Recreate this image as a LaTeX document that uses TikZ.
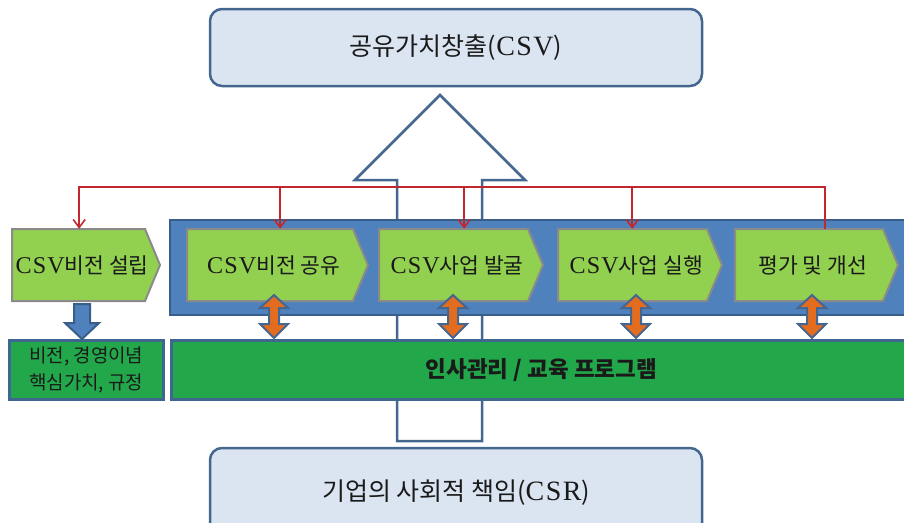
\documentclass[tikz,border=0pt]{standalone}
\usepackage{fontspec}
\setmainfont{Noto Sans CJK KR}
\newfontfamily\lat{Liberation Serif}[Scale=1.12,LetterSpace=5]
\usetikzlibrary{arrows.meta}

\definecolor{boxfill}{HTML}{DBE5F1}
\definecolor{boxline}{HTML}{44668F}
\definecolor{bandblue}{HTML}{4F81BD}
\definecolor{bandline}{HTML}{3A5E8A}
\definecolor{chevfill}{HTML}{92D050}
\definecolor{chevline}{HTML}{8A8A8A}
\definecolor{hrgreen}{HTML}{22A84B}
\definecolor{hrline}{HTML}{3F6591}
\definecolor{linkred}{HTML}{C1272D}
\definecolor{dblorange}{HTML}{E46C1E}
\definecolor{ink}{HTML}{1A1A1A}

\tikzset{
  roundbox/.style={draw=boxline, line width=2.5pt, fill=boxfill, rounded corners=12pt,
    text=ink, font=\fontsize{25}{29}\selectfont, inner sep=0pt},
  hollowarrow/.style={draw=boxline, line width=2.5pt, fill=white, line join=miter},
  bandstyle/.style={draw=bandline, line width=2.5pt, fill=bandblue},
  chevshape/.style={draw=chevline, line width=2pt, fill=chevfill, line join=miter},
  chevtext/.style={inner sep=0pt, minimum height=72pt, text=ink,
    font=\fontsize{21.5}{24}\selectfont},
  hrbox/.style={draw=hrline, line width=2.5pt, fill=hrgreen, inner sep=0pt, text=ink},
  redline/.style={draw=linkred, line width=1.6pt},
  redarrow/.style={redline, -{Straight Barb[length=8pt,width=12pt,line width=1.6pt]}},
  dblarrow/.style={draw=boxline, line width=2pt, fill=dblorange, line join=miter},
  downarrow/.style={draw=bandline, line width=2pt, fill=bandblue, line join=miter},
}

% pentagon-shaped step: name, left x, tip x, label
\newcommand\stepchevron[4]{%
  \draw[chevshape] (#2,229) -- ({#3-15},229) -- (#3,265) -- ({#3-15},301) -- (#2,301) -- cycle;
  \node[chevtext, minimum width={#3-#2-8}, anchor=west] (#1) at (#2,265) {#4};
}
% two-headed block arrow between a step and the HR band
\newcommand\linkarrow[1]{%
  \draw[dblarrow] (#1,295) -- ({#1+14},308) -- ({#1+5},308) -- ({#1+5},324) -- ({#1+14},324)
    -- (#1,338) -- ({#1-14},324) -- ({#1-5},324) -- ({#1-5},308) -- ({#1-14},308) -- cycle;
}

\begin{document}
\begin{tikzpicture}[x=1pt,y=-1pt]
\useasboundingbox (0,0) rectangle (904,522);

% hollow arrow rising from CSR to CSV
\draw[hollowarrow] (440,95) -- (525,180) -- (482,180) -- (482,441) -- (397,441)
  -- (397,180) -- (355,180) -- cycle;

% top and bottom boxes
\node[roundbox, minimum width=492pt, minimum height=77pt] (csv) at (456,47.5)
  {공유가치창출({\lat CSV})};
\node[roundbox, minimum width=492pt, minimum height=90pt] (csr) at (456,493)
  {기업의 사회적 책임({\lat CSR})};

% blue process band
\draw[bandstyle] (170,220) rectangle (915,315);

% steps
\stepchevron{cv1}{12}{160}{{\lat CSV}비전 설립}
\stepchevron{cv2}{187}{368}{{\lat CSV}비전 공유}
\stepchevron{cv3}{379}{543}{{\lat CSV}사업 발굴}
\stepchevron{cv4}{558}{722}{{\lat CSV}사업 실행}
\stepchevron{cv5}{735}{898}{평가 및 개선}

% feedback lines from evaluation back to each step
\draw[redarrow] ([xshift=12.5pt]cv5.north) -- ++(0,-42) -| ([xshift=-3pt]cv1.north);
\draw[redarrow] ([xshift=6.5pt,yshift=42pt]cv2.north) -- ([xshift=6.5pt]cv2.north);
\draw[redarrow] ([xshift=7pt,yshift=42pt]cv3.north) -- ([xshift=7pt]cv3.north);
\draw[redarrow] ([xshift=-4pt,yshift=42pt]cv4.north) -- ([xshift=-4pt]cv4.north);

% values box and HR band
\node[hrbox, minimum width=154pt, minimum height=59pt, anchor=north west, align=center,
  font=\fontsize{19}{27}\selectfont] (vals) at (8,339) {비전, 경영이념\\핵심가치, 규정};
\node[hrbox, minimum width=740pt, minimum height=59pt, anchor=north west,
  font=\fontsize{22.5}{26}\selectfont\bfseries] (hr) at (170,339) {인사관리 / 교육 프로그램};

% arrow from vision setting to values
\draw[downarrow] (74,304) -- (90,304) -- (90,323) -- (99,323) -- (82,339) -- (65,323)
  -- (74,323) -- cycle;

% links between steps and HR band
\linkarrow{274}
\linkarrow{453}
\linkarrow{636}
\linkarrow{812}
\end{tikzpicture}
\end{document}
